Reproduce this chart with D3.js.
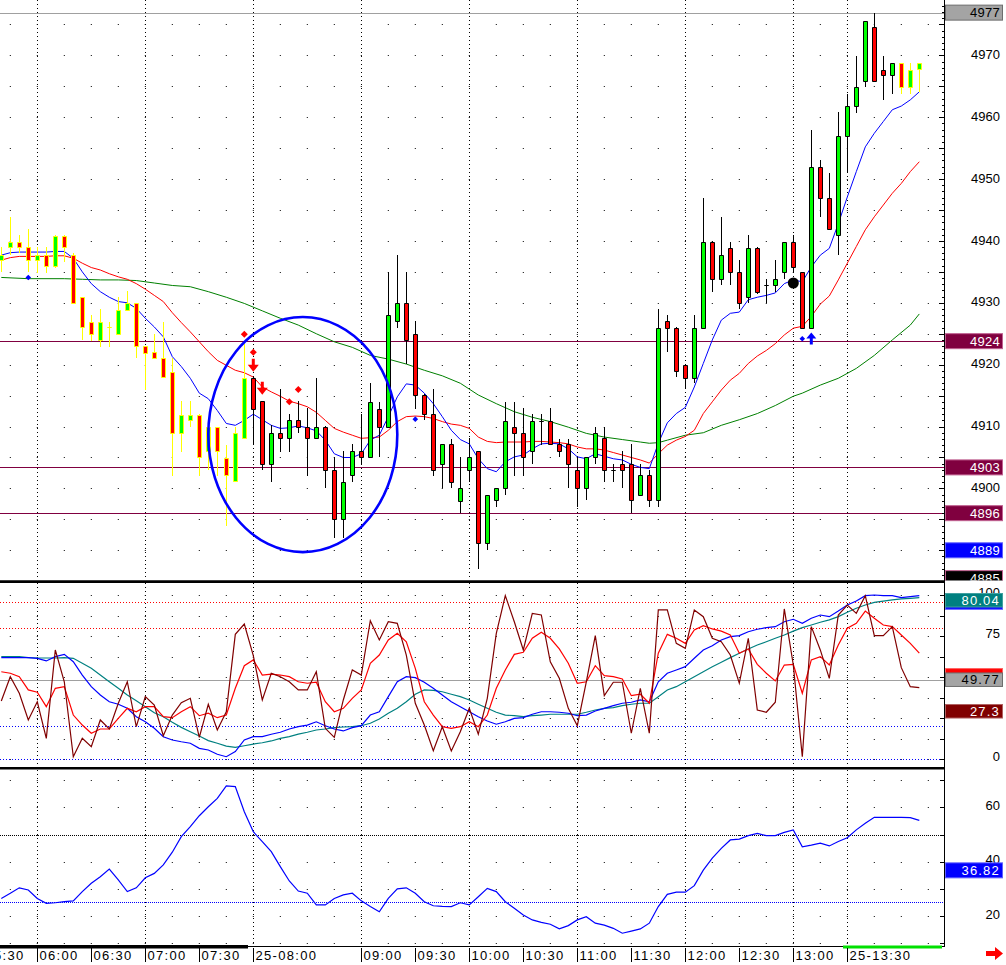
<!DOCTYPE html>
<html>
<head>
<meta charset="utf-8">
<title>5 min chart</title>
<script src="https://cdn.jsdelivr.net/npm/d3@7"></script>
<style>
  body { margin: 0; background: #fff; }
  svg { display: block; font-family: "Liberation Sans", Arial, sans-serif; }
</style>
</head>
<body>
<svg id="chart" width="1006" height="965"></svg>
<script>
// ---- values: 5 minute bars from 05:40 ----
const firstBar = "05:40";
const barMinutes = 5;

const opens = [
  4936.9, 4939.0, 4939.9, 4939.0, 4936.9, 4937.8, 4935.9, 4940.8, 4937.8, 4930.9,
  4926.9, 4924.0, 4926.1, 4924.9, 4928.9, 4929.9, 4923.0, 4922.0, 4921.0, 4918.8,
  4909.0, 4911.0, 4911.9, 4906.0, 4910.0, 4904.9, 4901.2, 4908.1, 4917.9, 4914.1,
  4904.0, 4909.0, 4908.1, 4911.0, 4910.0, 4908.1, 4910.0, 4903.0, 4895.1, 4902.2,
  4906.1, 4905.0, 4912.9, 4910.0, 4927.0, 4930.0, 4924.9, 4915.1, 4912.0, 4904.0,
  4907.1, 4898.0, 4903.0, 4906.0, 4891.1, 4898.1, 4900.0, 4910.0, 4909.0, 4906.1,
  4910.9, 4910.9, 4907.1, 4907.1, 4903.0, 4900.0, 4905.0, 4908.1, 4903.0, 4904.0,
  4904.0, 4899.0, 4902.1, 4898.1, 4927.0, 4926.0, 4920.0, 4917.9, 4926.0, 4939.9,
  4933.9, 4938.9, 4934.9, 4930.9, 4938.9, 4932.8, 4932.8, 4934.9, 4939.9, 4934.9,
  4926.0, 4951.9, 4946.9, 4940.9, 4956.9, 4961.8, 4965.8, 4974.6, 4967.7, 4966.8,
  4968.7, 4964.8, 4967.8
];
const highs = [
  4939.0, 4943.8, 4941.0, 4941.9, 4939.0, 4939.0, 4941.0, 4941.0, 4938.0, 4931.0,
  4928.0, 4929.0, 4926.9, 4930.9, 4931.9, 4930.0, 4923.0, 4925.0, 4926.9, 4921.0,
  4914.1, 4914.1, 4912.0, 4910.0, 4910.0, 4907.0, 4910.0, 4923.4, 4918.0, 4914.2,
  4910.2, 4916.0, 4912.0, 4914.1, 4913.0, 4917.9, 4910.1, 4905.0, 4906.1, 4907.2,
  4912.0, 4917.0, 4914.0, 4934.9, 4937.8, 4934.9, 4927.0, 4915.2, 4916.0, 4907.2,
  4908.0, 4905.0, 4908.1, 4906.1, 4899.0, 4900.1, 4914.0, 4914.0, 4913.0, 4912.0,
  4912.0, 4913.0, 4908.0, 4908.0, 4905.0, 4905.1, 4910.0, 4910.0, 4904.0, 4906.0,
  4907.1, 4904.0, 4903.0, 4929.0, 4928.0, 4926.1, 4920.1, 4928.0, 4946.9, 4940.0,
  4943.8, 4939.9, 4936.9, 4940.9, 4939.0, 4933.9, 4936.9, 4939.9, 4940.9, 4935.0,
  4957.9, 4953.0, 4950.9, 4960.8, 4963.8, 4969.9, 4975.6, 4976.9, 4969.9, 4968.7,
  4968.7, 4968.7, 4968.7
];
const lows = [
  4935.0, 4937.7, 4938.0, 4935.0, 4934.8, 4934.8, 4935.7, 4936.6, 4929.8, 4924.0,
  4923.8, 4922.9, 4922.9, 4924.9, 4928.9, 4921.0, 4915.9, 4921.0, 4918.0, 4902.0,
  4905.9, 4910.0, 4902.0, 4903.0, 4902.0, 4894.0, 4901.0, 4908.0, 4907.0, 4902.9,
  4901.0, 4905.9, 4905.9, 4909.0, 4902.0, 4908.0, 4900.0, 4892.0, 4892.0, 4901.1,
  4904.0, 4904.9, 4905.0, 4909.9, 4926.0, 4920.1, 4912.9, 4911.0, 4902.0, 4900.0,
  4900.0, 4896.0, 4901.1, 4887.0, 4890.0, 4897.0, 4898.9, 4902.0, 4902.0, 4904.0,
  4907.0, 4907.1, 4905.0, 4900.0, 4897.0, 4898.1, 4904.0, 4901.1, 4901.1, 4900.0,
  4896.0, 4899.0, 4897.0, 4897.0, 4922.0, 4918.0, 4916.0, 4917.0, 4925.9, 4931.8,
  4932.8, 4932.8, 4929.0, 4929.9, 4931.5, 4929.9, 4931.8, 4933.9, 4934.9, 4926.0,
  4926.0, 4943.8, 4941.9, 4937.8, 4950.9, 4960.7, 4964.8, 4965.8, 4962.8, 4963.8,
  4963.8, 4963.8, 4964.1
];
const closes = [
  4937.8, 4939.9, 4939.1, 4936.9, 4937.8, 4935.9, 4940.8, 4939.1, 4929.9, 4926.1,
  4924.9, 4926.9, 4926.1, 4928.9, 4929.9, 4923.0, 4921.9, 4921.0, 4918.0, 4909.0,
  4911.9, 4911.9, 4905.1, 4910.0, 4906.0, 4902.1, 4909.0, 4917.9, 4912.9, 4904.0,
  4909.0, 4908.1, 4911.0, 4910.0, 4908.1, 4910.0, 4903.0, 4895.1, 4901.1, 4906.1,
  4905.0, 4914.0, 4910.0, 4928.0, 4930.0, 4924.0, 4915.1, 4912.0, 4903.0, 4907.1,
  4901.1, 4900.0, 4905.0, 4891.1, 4899.0, 4900.0, 4910.9, 4909.0, 4905.0, 4910.9,
  4910.9, 4907.1, 4906.1, 4904.0, 4900.0, 4905.0, 4909.0, 4903.0, 4903.0, 4903.0,
  4898.1, 4902.1, 4898.1, 4926.0, 4926.0, 4919.0, 4917.9, 4926.0, 4939.9, 4933.9,
  4937.8, 4934.9, 4929.9, 4938.9, 4931.8, 4932.8, 4933.9, 4939.9, 4935.8, 4926.0,
  4951.9, 4946.9, 4941.9, 4956.9, 4961.8, 4964.8, 4975.6, 4965.8, 4966.8, 4968.7,
  4964.8, 4967.7, 4968.7
];

// bars painted with a yellow outline [first, last]
const yellowBars = [[0, 27], [100, 102]];

// moving averages over price
const maBlue = [
  4937.7, 4938.1, 4938.2, 4938.2, 4938.2, 4938.2, 4938.3, 4938.3, 4937.2, 4935.0,
  4933.1, 4931.8, 4930.9, 4930.2, 4930.0, 4929.1, 4927.5, 4926.1, 4924.5, 4921.3,
  4919.7, 4917.8, 4915.4, 4914.5, 4912.6, 4910.5, 4910.2, 4911.0, 4912.0, 4911.1,
  4910.2, 4909.7, 4909.8, 4910.1, 4909.8, 4909.3, 4907.8, 4905.6, 4905.0, 4905.0,
  4905.6, 4907.8, 4908.6, 4911.6, 4914.8, 4916.9, 4916.7, 4915.4, 4913.7, 4911.6,
  4909.4, 4907.9, 4907.2, 4904.8, 4903.2, 4902.7, 4904.3, 4905.1, 4905.4, 4906.4,
  4907.2, 4907.3, 4907.2, 4906.4, 4905.1, 4904.8, 4905.6, 4905.2, 4904.8, 4904.6,
  4903.9, 4903.4, 4903.2, 4907.3, 4910.6, 4912.1, 4913.1, 4916.4, 4920.2, 4924.0,
  4927.2, 4928.3, 4928.5, 4930.5, 4930.9, 4931.2, 4931.6, 4933.1, 4933.7, 4933.4,
  4935.8, 4937.7, 4938.8, 4942.8, 4947.1, 4951.2, 4955.2, 4957.4, 4959.3, 4961.2,
  4961.8, 4962.8, 4964.1
];
const maRed = [
  4936.9, 4937.3, 4937.5, 4937.5, 4937.5, 4937.5, 4937.6, 4937.6, 4937.2, 4936.4,
  4935.7, 4935.3, 4934.7, 4934.2, 4933.8, 4933.1, 4932.2, 4931.2, 4930.2, 4928.4,
  4926.8, 4925.3, 4923.7, 4922.1, 4920.7, 4919.9, 4919.1, 4918.7, 4918.0, 4916.4,
  4915.6, 4914.9, 4914.1, 4913.7, 4913.2, 4912.3, 4911.0, 4909.7, 4909.1, 4908.6,
  4908.1, 4908.2, 4908.3, 4909.4, 4910.8, 4911.6, 4911.7, 4911.6, 4911.3, 4910.8,
  4910.4, 4910.2, 4909.7, 4908.3, 4907.6, 4907.4, 4907.5, 4907.5, 4907.5, 4907.6,
  4907.6, 4907.5, 4907.4, 4907.2, 4906.7, 4906.4, 4906.4, 4906.2, 4905.8, 4905.4,
  4905.0, 4904.6, 4904.1, 4905.6, 4907.0, 4907.8, 4908.4, 4909.4, 4912.1, 4914.0,
  4915.9, 4917.5, 4918.6, 4920.2, 4921.4, 4922.3, 4923.4, 4924.8, 4925.9, 4926.2,
  4927.8, 4929.8, 4931.1, 4933.7, 4936.4, 4939.1, 4941.8, 4943.9, 4945.8, 4947.7,
  4949.3, 4951.2, 4952.8
];
// [bar, value]
const maGreen = [
  [0, 4934.1], [3, 4933.9], [7, 4933.9], [9, 4933.8], [11, 4933.7], [13, 4933.7],
  [15, 4933.6], [17, 4933.2], [19, 4932.8], [21, 4932.6], [23, 4931.8], [25, 4930.9],
  [27, 4929.9], [29, 4928.7], [31, 4927.5], [33, 4926.4], [35, 4925.0], [37, 4923.7],
  [39, 4922.8], [41, 4921.5], [43, 4920.9], [45, 4920.1], [47, 4919.1], [49, 4918.2],
  [51, 4917.0], [53, 4915.1], [55, 4913.7], [57, 4912.4], [59, 4911.5], [61, 4910.8],
  [63, 4909.9], [65, 4908.9], [67, 4908.3], [69, 4907.9], [71, 4907.5], [72, 4907.3],
  [73, 4907.4], [74, 4907.8], [76, 4908.6], [78, 4909.0], [80, 4910.2], [82, 4911.1],
  [84, 4912.1], [86, 4913.4], [88, 4914.9], [89, 4915.4], [91, 4916.7], [93, 4917.8],
  [95, 4919.4], [97, 4921.5], [99, 4924.0], [101, 4926.4], [102, 4928.2]
];

// horizontal price lines
const levelLines = [4923.8, 4903.4, 4896.0];
const highLine = 4976.9;

// signal marks [bar, price]
const redDots = [[27, 4924.9], [28, 4922.0], [32, 4914.0], [33, 4916.0]];
const redArrows = [[28, 4919.9], [29, 4916.2]];
const blueDots = [[3, 4934.1], [46, 4911.2], [89, 4924.2]];
const blueArrows = [[90, 4924.3]];
const blackDots = [[88, 4933.2]];
// hand drawn ellipse: centre bar / price, half width in bars, half height in points
const circled = [33.5, 4908.7, 10.5, 19.0];

// oscillator pane
const oscFast = [
  35.4, 50.2, 40.1, 23.8, 34.9, 12.6, 66.5, 47.1, 1.4, 12.6,
  7.5, 23.8, 18.3, 34.0, 47.1, 19.7, 38.0, 32.9, 14.2, 26.8,
  34.3, 37.0, 13.2, 33.4, 17.7, 28.8, 76.0, 82.3, 63.0, 36.0,
  52.3, 50.2, 47.1, 42.1, 42.1, 53.2, 18.7, 13.2, 36.0, 54.3,
  51.2, 84.3, 72.6, 83.7, 82.7, 63.4, 34.0, 20.7, 5.1, 19.7,
  4.9, 16.6, 30.9, 15.1, 37.0, 76.6, 99.6, 83.7, 66.5, 88.8,
  87.8, 59.3, 49.2, 30.9, 20.3, 47.1, 75.2, 38.6, 46.8, 46.8,
  15.7, 43.1, 15.7, 90.9, 90.9, 70.5, 67.5, 90.9, 86.8, 73.6,
  71.5, 63.4, 46.2, 73.6, 29.9, 28.5, 34.6, 91.5, 57.3, 1.4,
  80.7, 66.5, 49.2, 87.8, 93.9, 88.8, 99.6, 75.2, 75.2, 80.7,
  55.7, 44.1, 43.5
];
const oscSmooth = [
  53.2, 52.3, 50.2, 42.1, 40.7, 31.9, 43.1, 44.1, 26.8, 20.7,
  15.7, 18.3, 18.3, 24.8, 30.9, 28.8, 31.9, 31.9, 25.8, 25.2,
  28.8, 31.9, 26.4, 27.9, 25.2, 26.8, 43.1, 56.9, 60.4, 51.2,
  51.8, 51.2, 50.2, 47.1, 46.2, 46.8, 34.9, 28.8, 30.9, 37.0,
  42.1, 58.4, 63.4, 72.6, 76.6, 71.5, 55.3, 34.9, 26.8, 19.7,
  18.7, 19.7, 22.7, 19.7, 26.8, 43.1, 54.3, 63.8, 65.1, 73.6,
  77.3, 73.6, 67.1, 58.4, 46.2, 47.1, 56.9, 50.8, 50.2, 48.8,
  38.6, 39.5, 34.0, 64.5, 76.0, 73.6, 70.5, 78.7, 81.3, 79.3,
  78.0, 75.6, 64.5, 67.1, 57.7, 52.3, 47.6, 57.3, 57.7, 40.1,
  60.4, 62.4, 57.3, 69.5, 79.7, 82.7, 90.2, 85.8, 81.7, 80.7,
  75.6, 70.5, 64.5
];
const oscSlow = [
  61.8, 61.8, 61.8, 61.8, 61.4, 59.8, 62.4, 63.8, 59.3, 51.2,
  44.1, 39.0, 34.9, 33.4, 30.9, 25.8, 22.7, 18.7, 13.6, 11.6,
  10.5, 9.6, 6.5, 5.5, 2.9, 1.4, 4.5, 11.6, 13.6, 13.6,
  15.1, 16.3, 18.3, 19.7, 20.7, 22.7, 20.3, 18.3, 17.1, 19.1,
  20.3, 26.8, 28.8, 38.0, 47.1, 50.2, 49.6, 46.8, 43.1, 39.0,
  34.9, 31.9, 28.8, 25.8, 23.2, 21.2, 22.7, 24.8, 25.2, 27.3,
  28.8, 28.8, 28.5, 27.9, 26.4, 26.8, 29.3, 30.9, 32.5, 34.0,
  34.6, 36.0, 34.9, 47.1, 52.3, 54.3, 56.3, 61.4, 66.5, 69.1,
  72.6, 74.6, 75.2, 77.6, 79.1, 80.1, 80.7, 83.7, 85.2, 82.7,
  85.8, 87.8, 86.8, 90.2, 93.9, 96.3, 99.6, 100.0, 99.6, 99.6,
  98.4, 99.0, 99.6
];
const oscSignal = [
  62.4, 62.4, 62.4, 61.8, 61.6, 61.6, 61.6, 61.8, 61.4, 58.4,
  55.3, 51.2, 47.1, 43.1, 39.0, 35.5, 31.9, 28.2, 25.8, 22.4,
  19.3, 16.6, 14.0, 11.2, 9.6, 7.9, 7.1, 8.1, 9.1, 9.9,
  11.0, 12.6, 13.6, 15.2, 16.3, 17.7, 18.3, 19.1, 19.5, 19.7,
  20.3, 21.8, 24.4, 27.9, 30.9, 34.9, 39.5, 42.1, 41.9, 41.0,
  39.5, 38.0, 36.0, 33.4, 30.9, 28.5, 26.8, 26.4, 25.8, 26.4,
  26.8, 27.3, 27.3, 27.3, 27.3, 28.5, 29.9, 30.9, 31.3, 32.5,
  33.4, 34.0, 34.0, 38.0, 42.1, 44.1, 47.1, 50.2, 53.2, 56.3,
  59.0, 61.8, 64.5, 67.1, 69.5, 71.5, 73.6, 75.6, 78.0, 80.1,
  81.7, 83.4, 84.8, 86.8, 89.5, 91.9, 93.9, 95.5, 96.3, 97.0,
  97.6, 98.0, 98.4
];
const oscUpper = [96, 80];
const oscLower = [20, 0];
const oscMid = 48.35;

// lower pane
const lowerLine = [
  26.5, 28.4, 30.4, 29.6, 26.5, 24.7, 24.9, 25.3, 25.6, 29.0,
  32.1, 34.5, 37.3, 33.3, 29.0, 30.4, 34.1, 35.7, 38.8, 43.5,
  49.2, 52.9, 56.9, 60.2, 63.3, 67.9, 67.6, 58.4, 51.0, 47.4,
  43.7, 38.2, 32.9, 29.2, 28.4, 24.1, 24.1, 26.5, 27.8, 28.4,
  25.6, 23.5, 21.6, 26.5, 30.0, 30.4, 28.4, 25.3, 23.8, 23.6,
  23.5, 24.9, 24.1, 27.1, 30.2, 29.0, 25.3, 22.9, 20.4, 18.6,
  17.7, 17.0, 15.3, 16.5, 18.6, 19.8, 17.4, 16.7, 15.5, 13.7,
  14.5, 15.3, 17.4, 23.5, 28.0, 28.8, 28.8, 31.2, 36.9, 41.3,
  44.9, 48.0, 48.3, 49.6, 50.4, 49.6, 49.6, 50.8, 51.7, 45.5,
  46.1, 46.8, 45.8, 47.4, 48.8, 51.7, 54.1, 56.3, 56.3, 56.3,
  56.3, 56.2, 55.2
];
const lowerMid = 50;
const lowerLow = 25;

// axis texts
const priceTicks = [4970, 4960, 4950, 4940, 4930, 4920, 4910, 4900, 4890];
const oscTicks = [100, 75, 0];
const lowerTicks = [60, 40, 20];
// value tags on the right: [value, text, kind]; tags hidden under another carry no text
const priceTags = [
  [4976.9, "4977", "gray"], [4923.8, "4924", "wine"], [4903.4, "4903", "wine"],
  [4896.0, "4896", "wine"], [4890.0, "4889", "blue"], [4885.5, "4885", "black"]
];
const oscTags = [
  [95.4, "", "blue"], [96.8, "80.04", "teal"], [51.0, "", "red"],
  [48.35, "49.77", "gray"], [29.1, "27.3", "maroon"]
];
const lowerTags = [[36.82, "36.82", "blue"]];
const timeLabels = ["05:30", "06:00", "06:30", "07:00", "07:30", "25-08:00", "09:00", "09:30",
  "10:00", "10:30", "11:00", "11:30", "12:00", "12:30", "13:00", "25-13:30"];
const gridTimes = ["06:00", "07:00", "08:00", "09:00", "10:00", "11:00", "12:00", "13:00", "13:30"];

// ---- drawing ----
const svg = d3.select("#chart");
const plotW = 944;
const hm = d3.timeParse("%H:%M");
const t0 = hm(firstBar);
const barTime = i => new Date(+t0 + i * barMinutes * 60000);
const x = d3.scaleTime().domain([t0, barTime(opens.length - 1)]).range([1.3, 919.3]);
const xb = i => x(barTime(i));
const xTime = s => x(hm(s.slice(-5)));

const yP = d3.scaleLinear().domain([4885.2, 4978.94]).range([580, 0]);
const yO = d3.scaleLinear().domain([0, 100]).range([759, 595]);
const yV = d3.scaleLinear().domain([10, 70]).range([943.3, 780.1]);

const panes = [
  { id: "p", top: 0, bottom: 580, y: yP, rows: d3.range(4890, 4976, 5) },
  { id: "o", top: 583, bottom: 767, y: yO, rows: d3.range(0, 100.1, 12.5) },
  { id: "v", top: 770, bottom: 944, y: yV, rows: d3.range(10, 71, 10) }
];

svg.append("rect").attr("width", 1006).attr("height", 965).attr("fill", "#fff");
const defs = svg.append("defs");
panes.forEach(p => {
  defs.append("clipPath").attr("id", "clip-" + p.id)
    .append("rect").attr("x", 0).attr("y", p.top).attr("width", plotW).attr("height", p.bottom - p.top);
  defs.append("clipPath").attr("id", "axclip-" + p.id)
    .append("rect").attr("x", plotW).attr("y", p.top).attr("width", 62).attr("height", p.bottom - p.top + 0.5);
});

// grid
panes.forEach(p => {
  const g = svg.append("g").attr("clip-path", `url(#clip-${p.id})`);
  g.selectAll("line.row").data(p.rows).join("line")
    .attr("x1", xTime("05:45") - 0.5).attr("x2", plotW)
    .attr("y1", d => Math.round(p.y(d)) + 0.5).attr("y2", d => Math.round(p.y(d)) + 0.5)
    .attr("stroke", "#000").attr("stroke-dasharray", "1,26");
  g.selectAll("line.col").data(gridTimes).join("line")
    .attr("x1", d => Math.round(xTime(d)) + 0.5).attr("x2", d => Math.round(xTime(d)) + 0.5)
    .attr("y1", p.top).attr("y2", p.bottom)
    .attr("stroke", "#000").attr("stroke-dasharray", "1,3");
});

// price pane
const gp = svg.append("g").attr("clip-path", "url(#clip-p)");
gp.append("line").attr("x1", 0).attr("x2", plotW)
  .attr("y1", Math.round(yP(highLine)) + 0.5).attr("y2", Math.round(yP(highLine)) + 0.5)
  .attr("stroke", "#a0a0a0");
gp.selectAll("line.level").data(levelLines).join("line")
  .attr("x1", 0).attr("x2", plotW)
  .attr("y1", d => Math.round(yP(d)) + 0.5).attr("y2", d => Math.round(yP(d)) + 0.5)
  .attr("stroke", "#800040");

const lineIdx = (y) => d3.line().x((d, i) => xb(i)).y(d => y(d));
gp.append("path").attr("d", d3.line().x(d => xb(d[0])).y(d => yP(d[1]))(maGreen))
  .attr("fill", "none").attr("stroke", "#008000");
gp.append("path").attr("d", lineIdx(yP)(maRed)).attr("fill", "none").attr("stroke", "#ff0000");
gp.append("path").attr("d", lineIdx(yP)(maBlue)).attr("fill", "none").attr("stroke", "#0000ff");

const bars = opens.map((o, i) => ({
  i, o, h: highs[i], l: lows[i], c: closes[i],
  edge: yellowBars.some(([a, b]) => i >= a && i <= b) ? "#ffff00" : "#000"
}));
const cx = d => Math.round(xb(d.i)) + 0.5;
gp.selectAll("line.wick").data(bars).join("line")
  .attr("x1", cx).attr("x2", cx)
  .attr("y1", d => Math.round(yP(d.h))).attr("y2", d => Math.round(yP(d.l)))
  .attr("stroke", d => d.edge);
gp.selectAll("path.body").data(bars).join("path")
  .attr("d", d => {
    const t = Math.round(yP(Math.max(d.o, d.c))) + 0.5;
    const b = Math.round(yP(Math.min(d.o, d.c))) + 0.5;
    return `M${cx(d) - 2},${t}h4v${b - t}h-4Z`;
  })
  .attr("fill", d => d.c > d.o ? "#00ff00" : d.c < d.o ? "#ff0000" : "none")
  .attr("stroke", d => d.edge);

// ellipse
const [eb, ep, ebw, eph] = circled;
gp.append("ellipse")
  .attr("cx", xb(eb)).attr("cy", yP(ep))
  .attr("rx", xb(eb + ebw) - xb(eb)).attr("ry", yP(ep - eph) - yP(ep))
  .attr("fill", "none").attr("stroke", "#0000ff").attr("stroke-width", 2.6);

// marks
const diamond = r => `M0,${-r}L${r},0L0,${r}L${-r},0Z`;
const arrowDown = "M-1.5,-6.5H1.5V-0.5H5.5L0,6.5L-5.5,-0.5H-1.5Z";
const arrowUp = "M-1.5,6.5H1.5V0.5H5L0,-5.5L-5,0.5H-1.5Z";
const mark = (data, d, fill) => gp.selectAll(null).data(data).join("path")
  .attr("transform", v => `translate(${xb(v[0])},${yP(v[1])})`)
  .attr("d", d).attr("fill", fill);
mark(redDots, diamond(3.5), "#ff0000");
mark(redArrows, arrowDown, "#ff0000");
mark(blueDots, diamond(2.8), "#0000ff");
mark(blueArrows, arrowUp, "#0000ff");
gp.selectAll(null).data(blackDots).join("circle")
  .attr("cx", v => xb(v[0])).attr("cy", v => yP(v[1])).attr("r", 5.5).attr("fill", "#000");

// oscillator pane
const go = svg.append("g").attr("clip-path", "url(#clip-o)");
const hline = (g, y, v, color, dash) => g.append("line")
  .attr("x1", 0).attr("x2", plotW)
  .attr("y1", Math.round(y(v)) + 0.5).attr("y2", Math.round(y(v)) + 0.5)
  .attr("stroke", color).attr("stroke-dasharray", dash);
oscUpper.forEach(v => hline(go, yO, v, "#ff0000", "1,2"));
oscLower.forEach(v => hline(go, yO, v, "#0000ff", "1,2"));
hline(go, yO, oscMid, "#a0a0a0", null);
[[oscSignal, "#008080"], [oscSlow, "#0000ff"], [oscSmooth, "#ff0000"], [oscFast, "#800000"]]
  .forEach(([arr, col]) => go.append("path").attr("d", lineIdx(yO)(arr))
    .attr("fill", "none").attr("stroke", col).attr("stroke-width", 1.2));

// lower pane
const gv = svg.append("g").attr("clip-path", "url(#clip-v)");
hline(gv, yV, lowerMid, "#000", "1,1");
hline(gv, yV, lowerLow, "#0000ff", "1,1");
gv.append("path").attr("d", lineIdx(yV)(lowerLine))
  .attr("fill", "none").attr("stroke", "#0000ff").attr("stroke-width", 1.2);

// pane separators
[581.6, 768.3].forEach(y => svg.append("line").attr("x1", 0).attr("x2", plotW)
  .attr("y1", y).attr("y2", y).attr("stroke", "#000").attr("stroke-width", 2.6));

// right axis
svg.append("line").attr("x1", plotW + 0.5).attr("x2", plotW + 0.5).attr("y1", 0).attr("y2", 947)
  .attr("stroke", "#000");
const ticks = (vals, y, len) => svg.append("g").selectAll("line").data(vals).join("line")
  .attr("x1", plotW - len).attr("x2", plotW)
  .attr("y1", d => Math.round(y(d)) + 0.5).attr("y2", d => Math.round(y(d)) + 0.5)
  .attr("stroke", "#000");
ticks(d3.range(4886, 4979, 1).filter(v => v % 5), yP, 2);
ticks(d3.range(4890, 4979, 5), yP, 5);
ticks(d3.range(0, 100.1, 12.5), yO, 4);
ticks(d3.range(10, 71, 10), yV, 4);

const tagStyle = {
  gray: ["#a4a4a4", "#6e6e6e", "#000"],
  wine: ["#80003f", "#c06090", "#fff"],
  blue: ["#0000ff", "#6060ff", "#fff"],
  black: ["#000", "#c06090", "#fff"],
  teal: ["#008080", "#40a0a0", "#fff"],
  red: ["#ff0000", "#ff6060", "#fff"],
  maroon: ["#800000", "#b06060", "#fff"]
};
const axisLabels = (id, y, tickVals, tags, dy, hh) => {
  const g = svg.append("g").attr("clip-path", `url(#axclip-${id})`)
    .attr("font-size", 13).attr("text-anchor", "end");
  g.selectAll("text.tick").data(tickVals).join("text")
    .attr("x", 1000).attr("y", d => y(d) + dy + 4.6).text(d => d);
  tags.forEach(([v, text, kind]) => {
    const [fill, stroke, color] = tagStyle[kind];
    const yc = y(v);
    g.append("rect").attr("x", 945.5).attr("y", yc - hh / 2).attr("width", 57).attr("height", hh)
      .attr("fill", fill).attr("stroke", stroke);
    if (text) g.append("text").attr("x", 1000).attr("y", yc + 4.6).attr("fill", color)
      .attr("letter-spacing", text.includes(".") ? 1.2 : 0.3).text(text);
  });
};
axisLabels("p", yP, priceTicks, priceTags, -1, 15);
axisLabels("o", yO, oscTicks, oscTags, -3, 13.5);
axisLabels("v", yV, lowerTicks, lowerTags, -2, 15);

// time axis
svg.append("line").attr("x1", 0).attr("x2", plotW).attr("y1", 946.5).attr("y2", 946.5).attr("stroke", "#000");
svg.append("rect").attr("x", 0).attr("y", 945).attr("width", 248).attr("height", 3.5).attr("fill", "#000");
svg.append("rect").attr("x", 843).attr("y", 945.5).attr("width", 99).attr("height", 3).attr("fill", "#00e000");
const gt = svg.append("g").attr("font-size", 13).attr("letter-spacing", 1.3);
timeLabels.forEach(s => {
  const xx = Math.round(xTime(s)) + 0.5;
  gt.append("line").attr("x1", xx).attr("x2", xx).attr("y1", 948).attr("y2", 962).attr("stroke", "#000");
  gt.append("text").attr("x", xx + 2).attr("y", 960).text(s);
});
svg.append("path").attr("d", "M986,951H995V947L1003,953.5L995,960V956H986Z").attr("fill", "#ff0000");
</script>
</body>
</html>
